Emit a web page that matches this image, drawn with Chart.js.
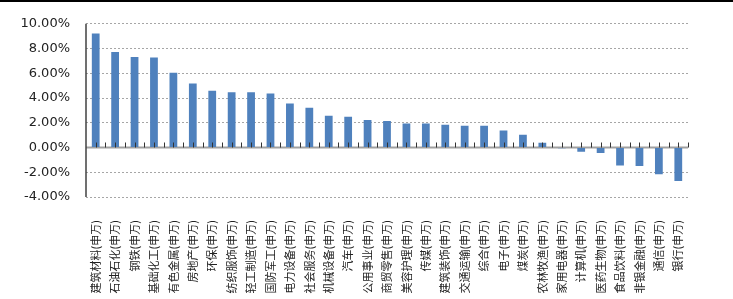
<!DOCTYPE html>
<html>
<head>
<meta charset="utf-8">
<script src="https://cdn.jsdelivr.net/npm/chart.js@4/dist/chart.umd.min.js"></script>
<style>
  html, body { margin: 0; padding: 0; background: #fff; overflow: hidden; }
  #wrap { position: relative; width: 733px; height: 299px; }
</style>
</head>
<body>
<div id="wrap"><canvas id="c"></canvas></div>
<script>
const categories = ["建筑材料(申万)","石油石化(申万)","钢铁(申万)","基础化工(申万)","有色金属(申万)","房地产(申万)","环保(申万)","纺织服饰(申万)","轻工制造(申万)","国防军工(申万)","电力设备(申万)","社会服务(申万)","机械设备(申万)","汽车(申万)","公用事业(申万)","商贸零售(申万)","美容护理(申万)","传媒(申万)","建筑装饰(申万)","交通运输(申万)","综合(申万)","电子(申万)","煤炭(申万)","农林牧渔(申万)","家用电器(申万)","计算机(申万)","医药生物(申万)","食品饮料(申万)","非银金融(申万)","通信(申万)","银行(申万)"];
const values = [9.22, 7.72, 7.32, 7.27, 6.05, 5.18, 4.58, 4.47, 4.47, 4.37, 3.55, 3.22, 2.57, 2.49, 2.22, 2.14, 1.95, 1.95, 1.84, 1.76, 1.76, 1.38, 1.03, 0.38, -0.05, -0.35, -0.45, -1.45, -1.50, -2.17, -2.70];
const yTicks = [-4, -2, 0, 2, 4, 6, 8, 10];

const decor = {
  id: 'decor',
  beforeDatasetsDraw(chart) {
    const ctx = chart.ctx, y = chart.scales.y, a = chart.chartArea;
    const y0 = y.getPixelForValue(0);
    ctx.save();
    ctx.strokeStyle = '#a0a0a0';
    ctx.lineWidth = 2;
    ctx.beginPath();
    ctx.moveTo(a.left, y0);
    ctx.lineTo(a.right, y0);
    ctx.stroke();
    ctx.restore();
  },
  afterDatasetsDraw(chart) {
    const ctx = chart.ctx, x = chart.scales.x, y = chart.scales.y, a = chart.chartArea;
    const y0 = y.getPixelForValue(0);
    ctx.save();
    ctx.strokeStyle = '#404040';
    ctx.lineWidth = 1.5;
    ctx.beginPath();
    ctx.moveTo(a.left, a.top);
    ctx.lineTo(a.left, a.bottom);
    ctx.stroke();
    ctx.strokeStyle = '#333';
    ctx.lineWidth = 1;
    const n = categories.length;
    const half = (x.getPixelForValue(1) - x.getPixelForValue(0)) / 2;
    ctx.beginPath();
    for (let i = 0; i < n; i++) {
      const cx = x.getPixelForValue(i);
      ctx.moveTo(Math.round(cx) + 0.5, y0 - 5);
      ctx.lineTo(Math.round(cx) + 0.5, y0);
      const ex = cx + half;
      ctx.moveTo(Math.round(ex) + 0.5, y0 - 5);
      ctx.lineTo(Math.round(ex) + 0.5, y0);
    }
    ctx.stroke();
    ctx.fillStyle = '#000';
    ctx.fillRect(0, 0, chart.width, 2);
    ctx.restore();
  }
};

new Chart(document.getElementById('c'), {
  type: 'bar',
  data: {
    labels: categories,
    datasets: [{
      data: values,
      backgroundColor: '#4f81bd',
      borderWidth: 0,
      barPercentage: 0.4,
      categoryPercentage: 1.0
    }]
  },
  options: {
    responsive: true,
    maintainAspectRatio: false,
    animation: false,
    layout: { padding: { top: 23, right: 45, bottom: 0, left: 0 } },
    plugins: { legend: { display: false }, tooltip: { enabled: false } },
    scales: {
      x: {
        grid: { display: false, drawTicks: false },
        border: { display: false },
        ticks: {
          autoSkip: false,
          maxRotation: 90,
          minRotation: 90,
          padding: 23,
          color: '#222',
          font: { family: '"Noto Sans CJK SC", sans-serif', size: 11 }
        },
        afterFit(scale) { scale.height = 102; }
      },
      y: {
        min: -4,
        max: 10,
        afterBuildTicks(scale) { scale.ticks = yTicks.map(v => ({ value: v })); },
        grid: {
          drawTicks: false,
          color: c => (c.tick && c.tick.value === 0) ? 'rgba(0,0,0,0)' : '#a6a6a6',
          lineWidth: 1
        },
        border: { display: false, dash: [2, 2] },
        ticks: {
          padding: 16,
          color: '#222',
          font: { family: '"DejaVu Sans", sans-serif', size: 13 },
          callback: v => v.toFixed(2) + '%'
        },
        afterFit(scale) { scale.width = 86; }
      }
    }
  },
  plugins: [decor]
});
</script>
</body>
</html>
